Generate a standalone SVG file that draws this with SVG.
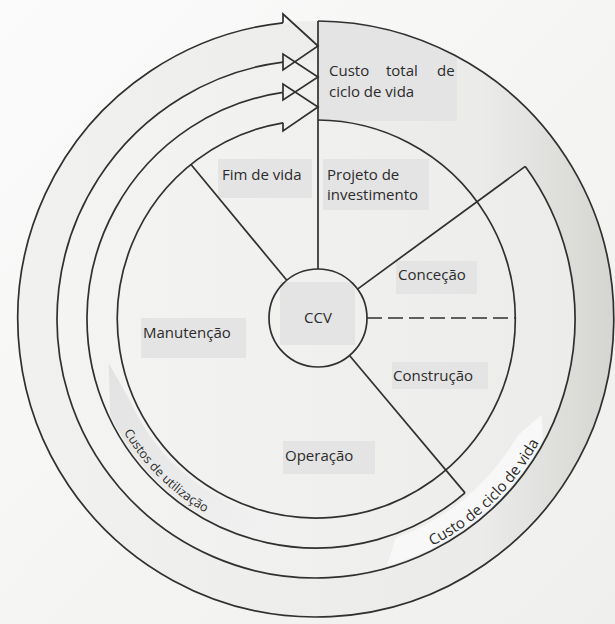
<svg xmlns="http://www.w3.org/2000/svg" width="615" height="624" viewBox="0 0 615 624">
  <defs>
    <linearGradient id="paper" x1="0" y1="0" x2="1" y2="1">
      <stop offset="0" stop-color="#fbfbfb"/>
      <stop offset="1" stop-color="#efefed"/>
    </linearGradient>
    <linearGradient id="ring" x1="0" y1="0" x2="1" y2="0">
      <stop offset="0" stop-color="#f1f1f0"/>
      <stop offset="0.78" stop-color="#ebebea"/>
      <stop offset="1" stop-color="#d5d5d1"/>
    </linearGradient>
    <linearGradient id="core" x1="0" y1="0" x2="1" y2="0">
      <stop offset="0" stop-color="#f4f4f3"/>
      <stop offset="1" stop-color="#ececea"/>
    </linearGradient>
    <linearGradient id="useFill" x1="0" y1="0" x2="1" y2="1">
      <stop offset="0" stop-color="#e2e2e2"/>
      <stop offset="1" stop-color="#f2f2f2"/>
    </linearGradient>
    <clipPath id="outerClip">
      <circle cx="316" cy="319" r="298"/>
    </clipPath>
    <!-- baselines for the curved labels -->
    <path id="arcUse" d="M123.9,432.2 A223,223 0 0 0 239.7,528.5"/>
    <path id="arcLcc" d="M432.2,546 A255,255 0 0 0 552.4,414.5"/>
  </defs>
  <style>
    .ln { fill: none; stroke: #303030; stroke-width: 1.7; stroke-linejoin: miter; }
    .dash { stroke-dasharray: 15 6; }
    .box { fill: #e4e4e4; }
    .lbl { font-family: "Open Sans", "Liberation Sans", sans-serif; font-size: 15px; fill: #2b2b2b; }
    .arcl { font-size: 12.5px; }
  </style>

  <!-- paper and ring shading -->
  <rect x="0" y="0" width="615" height="624" fill="url(#paper)"/>
  <circle cx="316" cy="319" r="298" fill="url(#ring)"/>
  <!-- lighter interior: inside the third ring, except the top-right sector which stops at the inner circle -->
  <path d="M318,120 A199,199 0 0 1 476.8,201.8 L525.3,166.4 A259,259 0 1 1 318,60 Z" fill="url(#core)"/>

  <!-- label backgrounds -->
  <g id="boxes">
    <rect class="box" x="318" y="10" width="139" height="111" clip-path="url(#outerClip)"/>
    <rect class="box" x="218" y="159" width="94" height="39"/>
    <rect class="box" x="323" y="159" width="106" height="51"/>
    <rect class="box" x="396" y="261" width="81" height="33"/>
    <rect class="box" x="280" y="282" width="75" height="63"/>
    <rect class="box" x="141" y="318" width="105" height="40"/>
    <rect class="box" x="392" y="362" width="96" height="27"/>
    <rect class="box" x="283" y="441" width="92" height="33"/>
  </g>

  <!-- rings, sector dividers and the three accumulating arrows -->
  <g id="connectors">
    <path class="ln" d="M318,21 A298,298 0 1 1 283,22.8"/>
    <path class="ln" d="M525.3,166.4 A259,259 0 1 1 283,62.1"/>
    <path class="ln" d="M465,492.9 A229,229 0 1 1 283,92.4"/>
    <path class="ln" d="M318,120 A199,199 0 1 1 283,122.8"/>
    <path class="ln" d="M283,22.8 L283,14 L318,46 L283,70 L283,62.1"/>
    <path class="ln" d="M283,62.1 L283,54 L318,77 L283,100 L283,92.4"/>
    <path class="ln" d="M283,92.4 L283,84 L318,107 L283,131 L283,122.8"/>
    <path class="ln" d="M318,21 L318,269"/>
    <path class="ln" d="M286.8,280.3 L190.8,164.3"/>
    <path class="ln" d="M357.5,289.1 L525.3,166.4"/>
    <path class="ln" d="M349.5,355.5 L465,492.9"/>
    <path class="ln dash" d="M367,318 L515,318"/>
  </g>

  <!-- curved label bands -->
  <g id="band-utilizacao">
    <path d="M108.6,363.1 L110.3,414.9 A227,227 0 0 0 261.1,539.3 L280.8,518.9 A203,203 0 0 1 130.5,401.6 Z" fill="url(#useFill)"/>
    <text class="lbl arcl"><textPath href="#arcUse">Custos de utilização</textPath></text>
  </g>
  <g id="band-ciclo">
    <path d="M386.8,566 A257,257 0 0 0 542.9,439.7 L541.5,414.7 L517.8,435.5 A233,233 0 0 1 395.7,538 Z" fill="#f8f8f8"/>
    <text class="lbl" font-size="12.5"><textPath href="#arcLcc">Custo de ciclo de vida</textPath></text>
  </g>

  <g id="ccv">
    <circle class="ln" cx="318" cy="318" r="49"/>
    <text class="lbl" x="304" y="323">CCV</text>
  </g>
  <g id="custo-total">
    <text class="lbl" y="76"><tspan x="329">Custo</tspan><tspan x="386">total</tspan><tspan x="437">de</tspan></text>
    <text class="lbl" x="329" y="97">ciclo de vida</text>
  </g>
  <g id="fim-de-vida"><text class="lbl" x="222" y="180">Fim de vida</text></g>
  <g id="projeto"><text class="lbl" x="327" y="180">Projeto de</text><text class="lbl" x="327" y="200">investimento</text></g>
  <g id="concecao"><text class="lbl" x="398" y="280">Conceção</text></g>
  <g id="manutencao"><text class="lbl" x="143" y="338">Manutenção</text></g>
  <g id="construcao"><text class="lbl" x="393" y="381">Construção</text></g>
  <g id="operacao"><text class="lbl" x="285" y="461">Operação</text></g>
</svg>
